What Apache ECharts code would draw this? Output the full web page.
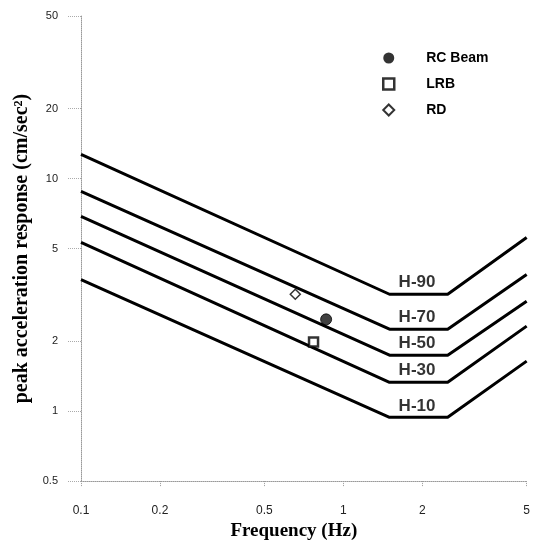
<!DOCTYPE html>
<html lang="en">
<head>
    <meta charset="UTF-8">
    <title>peak acceleration response</title>
    <script src="https://cdn.jsdelivr.net/npm/echarts@6/dist/echarts.min.js"></script>
    <style>
        html, body { margin: 0; padding: 0; background: #fff; }
        #main { width: 533px; height: 546px; }
    </style>
</head>
<body>
<div id="main"></div>
<script>
    // break frequencies of the H curves (Hz)
    var freqBreaks = [0.1, 1.5, 2.5, 5];
    var h90 = [12.7, 3.18, 3.18, 5.58];
    var h70 = [8.8, 2.25, 2.25, 3.87];
    var h50 = [6.87, 1.74, 1.74, 2.97];
    var h30 = [5.31, 1.33, 1.33, 2.32];
    var h10 = [3.68, 0.94, 0.94, 1.64];
    var curveNames = ['H-90', 'H-70', 'H-50', 'H-30', 'H-10'];
    var curves = [h90, h70, h50, h30, h10];
    var labelFreq = 1.91;

    // measured points [freq, accel]
    var rcBeam = [[0.86, 2.48]];
    var lrb = [[0.77, 1.98]];
    var rd = [[0.656, 3.18]];

    var xTicks = [0.1, 0.2, 0.5, 1, 2, 5];
    var yTicks = [0.5, 1, 2, 5, 10, 20, 50];

    var myChart = echarts.init(document.getElementById('main'));

    var series = [];
    curves.forEach(function (c, i) {
        series.push({
            name: curveNames[i],
            type: 'line',
            data: freqBreaks.map(function (f, j) { return [f, c[j]]; }),
            symbol: 'none',
            lineStyle: { color: '#000', width: 3 },
            silent: true,
            z: 2
        });
        series.push({
            name: curveNames[i] + ' label',
            type: 'scatter',
            data: [[labelFreq, c[1]]],
            symbolSize: 0,
            silent: true,
            label: {
                show: true,
                position: 'top',
                distance: 3,
                formatter: curveNames[i],
                fontFamily: 'Liberation Sans, Arial',
                fontWeight: 'bold',
                fontSize: 17,
                color: '#000'
            }
        });
    });
    series.push({
        name: 'RC Beam', type: 'scatter', data: rcBeam,
        symbol: 'circle', symbolSize: 11,
        itemStyle: { color: '#111', borderColor: '#000', borderWidth: 1 }, z: 5
    });
    series.push({
        name: 'LRB', type: 'scatter', data: lrb,
        symbol: 'rect', symbolSize: 9,
        itemStyle: { color: '#fff', borderColor: '#000', borderWidth: 2.5 }, z: 5
    });
    series.push({
        name: 'RD', type: 'scatter', data: rd,
        symbol: 'diamond', symbolSize: 10,
        itemStyle: { color: '#fff', borderColor: '#000', borderWidth: 1.5 }, z: 5
    });

    myChart.setOption({
        animation: false,
        grid: { left: 81, right: 4, top: 16, bottom: 64 },
        legend: {
            orient: 'vertical',
            left: 377,
            top: 46,
            itemWidth: 11,
            itemHeight: 11,
            itemGap: 12,
            data: [
                { name: 'RC Beam', icon: 'circle', itemStyle: { color: '#000', borderWidth: 0 } },
                { name: 'LRB', icon: 'rect', itemStyle: { color: '#fff', borderColor: '#000', borderWidth: 2.5 } },
                { name: 'RD', icon: 'diamond', itemStyle: { color: '#fff', borderColor: '#000', borderWidth: 2 } }
            ],
            textStyle: {
                fontFamily: 'Liberation Sans, Arial',
                fontWeight: 'bold',
                fontSize: 14,
                color: '#000',
                padding: [0, 0, 0, 27]
            }
        },
        xAxis: {
            type: 'log',
            logBase: 10,
            min: 0.1,
            max: 5,
            name: 'Frequency (Hz)',
            nameLocation: 'middle',
            nameGap: 36,
            nameTextStyle: {
                fontFamily: 'Liberation Serif, Times New Roman',
                fontWeight: 'bold',
                fontSize: 19,
                color: '#000',
                padding: [0, 20, 0, 0]
            },
            axisLine: { lineStyle: { color: '#999', type: 'dotted', width: 1 } },
            axisTick: { customValues: xTicks, length: 5, lineStyle: { color: '#999', type: 'dotted' } },
            axisLabel: {
                customValues: xTicks,
                margin: 24,
                fontFamily: 'Liberation Sans, Arial',
                fontSize: 12,
                color: '#222'
            },
            splitLine: { show: false }
        },
        yAxis: {
            type: 'log',
            logBase: 10,
            min: 0.5,
            max: 50,
            name: 'peak acceleration response (cm/sec²)',
            nameLocation: 'middle',
            nameGap: 49,
            nameTextStyle: {
                fontFamily: 'Liberation Serif, Times New Roman',
                fontWeight: 'bold',
                fontSize: 20,
                color: '#000'
            },
            axisLine: { lineStyle: { color: '#999', type: 'dotted', width: 1 } },
            axisTick: { customValues: yTicks, length: 14, lineStyle: { color: '#aaa', type: 'dotted' } },
            axisLabel: {
                customValues: yTicks,
                margin: 23,
                fontFamily: 'Liberation Sans, Arial',
                fontSize: 11,
                color: '#222'
            },
            splitLine: { show: false }
        },
        series: series
    });
</script>
</body>
</html>
